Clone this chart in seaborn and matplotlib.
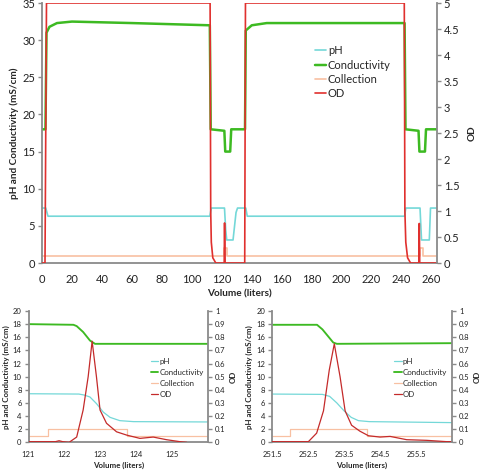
import matplotlib
matplotlib.use("Agg")
import matplotlib.pyplot as plt
import seaborn as sns
import numpy as np
from matplotlib.ticker import MultipleLocator, FuncFormatter

sns.set_theme(style="white")
plt.rcParams['font.family'] = ['Lato', 'DejaVu Sans']

# ---------------- data: top panel (full run) ----------------
top_ph_x = [0, 2.5, 4, 112, 113, 121.8, 122.6, 123.3, 127.5, 129.5, 130.5, 136, 137, 242, 242.8, 252.3, 253.3, 258.5, 259.3, 263]
top_ph_y = [7.4, 7.4, 6.3, 6.3, 7.4, 7.4, 4.5, 3.1, 3.1, 6.8, 7.4, 7.4, 6.3, 6.3, 7.4, 7.4, 3.1, 3.1, 7.4, 7.4]

top_cond_x = [0, 2.3, 3, 5, 10, 20, 60, 112, 112.6, 121.7, 122.3, 125.6, 126.3, 135.5, 136, 140, 150, 242, 242.6, 251.3, 251.9, 255.6, 256.3, 263]
top_cond_y = [18, 18, 31, 31.8, 32.3, 32.5, 32.3, 32.0, 18.0, 17.8, 15.0, 15.0, 18.0, 18.0, 31.3, 32.0, 32.3, 32.3, 18.0, 17.8, 15.0, 15.0, 18.0, 18.0]

top_coll_x = [0, 121.5, 121.5, 123.7, 123.7, 252.0, 252.0, 254.2, 254.2, 263]
top_coll_y = [1, 1, 2, 2, 1, 1, 2, 2, 1, 1]

top_od_x = [0, 2.0, 3.0, 112.2, 112.6, 113.0, 114.0, 116.0, 121.6, 121.85, 122.2, 135.3, 135.8, 241.8, 242.2, 242.8, 244.0, 246.0, 251.5, 251.8, 252.1, 263]
top_od_y = [0, 0, 5, 5, 1.0, 0.4, 0.1, 0, 0, 0.77, 0, 0, 5, 5, 1.0, 0.4, 0.1, 0, 0, 0.76, 0, 0]

# ---------------- data: bottom-left (121-126 L) ----------------
bl_ph_x = [121, 122.4, 122.55, 122.71, 122.89, 123.08, 123.27, 123.54, 123.92, 126]
bl_ph_y = [7.4, 7.35, 7.2, 6.9, 5.9, 4.6, 3.8, 3.3, 3.15, 3.1]

bl_cond_x = [121, 122.25, 122.34, 122.52, 122.71, 122.85, 126]
bl_cond_y = [18.0, 17.9, 17.7, 16.8, 15.5, 15.0, 15.0]

bl_coll_x = [121, 121.54, 121.54, 123.74, 123.74, 126]
bl_coll_y = [1, 1, 2, 2, 1, 1]

bl_od_x = [121, 121.75, 121.85, 121.95, 122.13, 122.34, 122.52, 122.66, 122.77, 122.89, 122.99, 123.17, 123.45, 123.73, 124.1, 124.47, 124.84, 125.21, 125.4]
bl_od_y = [0.005, 0.005, 0.012, 0.005, 0.0, 0.04, 0.246, 0.5, 0.77, 0.5, 0.246, 0.145, 0.08, 0.055, 0.03, 0.04, 0.02, 0.005, 0.0]

# ---------------- data: bottom-right (251.5-256.5 L) ----------------
br_ph_x = [251.5, 252.9, 253.1, 253.3, 253.5, 253.7, 253.9, 254.2, 256.5]
br_ph_y = [7.35, 7.3, 7.0, 6.0, 4.8, 3.8, 3.3, 3.15, 3.0]

br_cond_x = [251.5, 252.75, 252.9, 253.05, 253.2, 253.3, 256.5]
br_cond_y = [17.9, 17.9, 17.2, 16.2, 15.2, 15.0, 15.1]

br_coll_x = [251.5, 252.0, 252.0, 254.15, 254.15, 256.5]
br_coll_y = [1, 1, 2, 2, 1, 1]

br_od_x = [251.5, 252.51, 252.74, 252.93, 253.09, 253.23, 253.39, 253.53, 253.71, 253.94, 254.18, 254.5, 254.78, 255.24, 255.8, 256.35, 256.5]
br_od_y = [0.005, 0.005, 0.07, 0.24, 0.55, 0.75, 0.5, 0.24, 0.13, 0.085, 0.05, 0.04, 0.045, 0.02, 0.015, 0.005, 0.005]

labels = ["pH", "Conductivity", "Collection", "OD"]

C_PH = "#74d8d8"
C_COND = "#3dba22"
C_COLL = "#f8c0a2"
C_OD_TOP = "#e0302e"
C_OD_BOT = "#c42a2a"
SPINE = "#8a8a8a"

fig = plt.figure(figsize=(4.8, 4.7), dpi=100)
ax_top = fig.add_axes([0.0875, 0.4404, 0.8225, 0.5532])
ax_bl = fig.add_axes([0.0594, 0.0589, 0.3744, 0.2794])
ax_br = fig.add_axes([0.5667, 0.0589, 0.3750, 0.2794])


def style(ax, axr, tsize, lsize, xpad, rpad):
    for a in (ax, axr):
        a.set_facecolor("none")
        a.spines["top"].set_visible(False)
        for s in ("left", "right", "bottom"):
            a.spines[s].set_color(SPINE)
            a.spines[s].set_linewidth(1.3)
        a.tick_params(axis="both", which="both", direction="out", color=SPINE,
                      labelsize=tsize, labelcolor="#222222", length=3, width=1, pad=2)
        a.tick_params(which="minor", length=3)
        a.grid(False)
    ax.tick_params(axis="x", pad=xpad)
    ax.spines["right"].set_visible(False)
    axr.spines["left"].set_visible(False)
    axr.spines["bottom"].set_visible(False)
    ax.set_ylabel("pH and Conductivity (mS/cm)", fontsize=lsize, fontweight="bold", labelpad=2)
    axr.set_ylabel("OD", fontsize=lsize, fontweight="bold", labelpad=rpad)
    ax.set_xlabel("Volume (liters)", fontsize=lsize, fontweight="bold", labelpad=3)


def draw(ax, ph, cond, coll, od, od_color, lw):
    sns.lineplot(x=ph[0], y=ph[1], ax=ax, color=C_PH, lw=lw, estimator=None, sort=False, label=labels[0])
    sns.lineplot(x=cond[0], y=cond[1], ax=ax, color=C_COND, lw=lw * 1.5, estimator=None, sort=False, label=labels[1])
    sns.lineplot(x=coll[0], y=coll[1], ax=ax, color=C_COLL, lw=lw, estimator=None, sort=False, label=labels[2])
    axr = ax.twinx()
    sns.lineplot(x=od[0], y=od[1], ax=axr, color=od_color, lw=lw, estimator=None, sort=False, label=labels[3])
    h1, l1 = ax.get_legend_handles_labels()
    h2, l2 = axr.get_legend_handles_labels()
    ax.get_legend().remove()
    axr.get_legend().remove()
    return axr, h1 + h2, l1 + l2


def od_fmt(v, p):
    if abs(v - round(v)) < 1e-9:
        return f"{int(round(v))}"
    return f"{v:.1f}"


# top panel
axr_top, h, l = draw(ax_top, (top_ph_x, top_ph_y), (top_cond_x, top_cond_y),
                     (top_coll_x, top_coll_y), (top_od_x, top_od_y), C_OD_TOP, 1.2)
ax_top.set_xlim(0, 263.5)
ax_top.set_ylim(0, 35)
axr_top.set_ylim(0, 5)
ax_top.xaxis.set_major_locator(MultipleLocator(20))
ax_top.xaxis.set_minor_locator(MultipleLocator(10))
ax_top.yaxis.set_major_locator(MultipleLocator(5))
axr_top.yaxis.set_major_locator(MultipleLocator(0.5))
axr_top.yaxis.set_major_formatter(FuncFormatter(lambda v, p: f"{v:g}"))
style(ax_top, axr_top, 8, 7.2, 5, 6)
fig.legend(h, l, loc="upper left", bbox_to_anchor=(0.647, 0.913), frameon=False,
           fontsize=8, handlelength=1.0, handletextpad=0.15, labelspacing=0.3, borderaxespad=0)

# bottom-left
axr_bl, h, l = draw(ax_bl, (bl_ph_x, bl_ph_y), (bl_cond_x, bl_cond_y),
                    (bl_coll_x, bl_coll_y), (bl_od_x, bl_od_y), C_OD_BOT, 0.9)
ax_bl.set_xlim(121, 126)
ax_bl.set_ylim(0, 20)
axr_bl.set_ylim(0, 1)
ax_bl.set_xticks([121, 122, 123, 124, 125])
ax_bl.xaxis.set_minor_locator(MultipleLocator(0.5))
ax_bl.yaxis.set_major_locator(MultipleLocator(2))
axr_bl.yaxis.set_major_locator(MultipleLocator(0.1))
axr_bl.yaxis.set_major_formatter(FuncFormatter(od_fmt))
style(ax_bl, axr_bl, 5.5, 5.7, 3, 3)
fig.legend(h, l, loc="upper left", bbox_to_anchor=(0.307, 0.245), frameon=False,
           fontsize=5.7, handlelength=1.0, handletextpad=0.1, labelspacing=0.5, borderaxespad=0)

# bottom-right
axr_br, h, l = draw(ax_br, (br_ph_x, br_ph_y), (br_cond_x, br_cond_y),
                    (br_coll_x, br_coll_y), (br_od_x, br_od_y), C_OD_BOT, 0.9)
ax_br.set_xlim(251.5, 256.5)
ax_br.set_ylim(0, 20)
axr_br.set_ylim(0, 1)
ax_br.set_xticks([251.5, 252.5, 253.5, 254.5, 255.5])
ax_br.xaxis.set_minor_locator(MultipleLocator(0.5))
ax_br.yaxis.set_major_locator(MultipleLocator(2))
axr_br.yaxis.set_major_locator(MultipleLocator(0.1))
axr_br.yaxis.set_major_formatter(FuncFormatter(od_fmt))
style(ax_br, axr_br, 5.5, 5.7, 3, 3)
fig.legend(h, l, loc="upper left", bbox_to_anchor=(0.814, 0.245), frameon=False,
           fontsize=5.7, handlelength=1.0, handletextpad=0.1, labelspacing=0.5, borderaxespad=0)

fig.savefig("out.png", dpi=100)
